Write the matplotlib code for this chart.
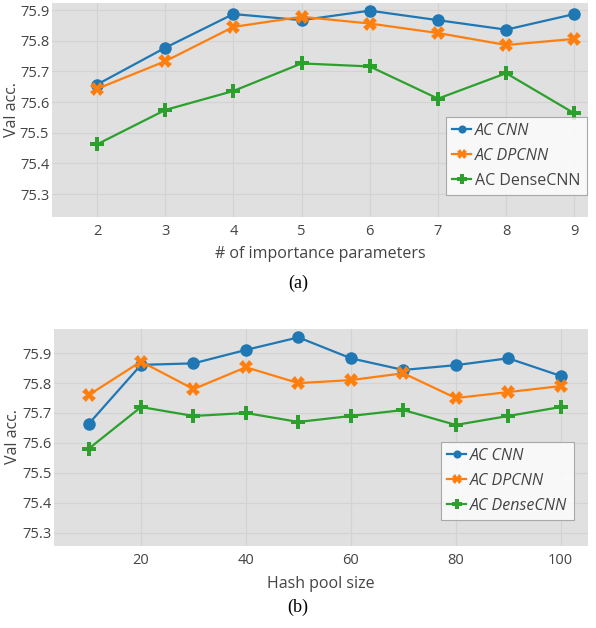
import matplotlib
matplotlib.use("Agg")
import matplotlib.pyplot as plt

# ---- data ----
params_a = [2, 3, 4, 5, 6, 7, 8, 9]
cnn_a = [75.657, 75.777, 75.887, 75.867, 75.898, 75.867, 75.836, 75.887]
dpcnn_a = [75.643, 75.733, 75.845, 75.878, 75.856, 75.825, 75.786, 75.806]
dense_a = [75.462, 75.574, 75.636, 75.726, 75.716, 75.611, 75.694, 75.563]

pool_b = [10, 20, 30, 40, 50, 60, 70, 80, 90, 100]
cnn_b = [75.663, 75.861, 75.866, 75.911, 75.953, 75.883, 75.844, 75.860, 75.883, 75.824]
dpcnn_b = [75.760, 75.872, 75.780, 75.853, 75.800, 75.810, 75.833, 75.750, 75.770, 75.790]
dense_b = [75.580, 75.720, 75.690, 75.700, 75.670, 75.690, 75.710, 75.660, 75.690, 75.720]

yticks = [75.3, 75.4, 75.5, 75.6, 75.7, 75.8, 75.9]
xticks_b = [20, 40, 60, 80, 100]
series_names = ["AC CNN", "AC DPCNN", "AC DenseCNN"]

colors = ["#1f77b4", "#ff7f0e", "#2ca02c"]
markers = ["o", "X", "P"]
msizes = [9, 10, 10]

W, H = 596, 628
fig = plt.figure(figsize=(W / 100, H / 100), dpi=100)
plt.rcParams['font.family'] = ['Open Sans', 'DejaVu Sans']
txt = "#444444"


def make_axes(l, r, t, b):
    return fig.add_axes([l / W, (H - b) / H, (r - l) / W, (b - t) / H])


def style(ax):
    ax.set_facecolor("#e0e0e0")
    for s in ax.spines.values():
        s.set_visible(False)
    ax.grid(True, color="#d3d3d3", linewidth=0.9)
    ax.set_axisbelow(True)
    ax.tick_params(length=0, labelsize=10.5, colors=txt)
    ax.tick_params(axis='y', pad=2)
    ax.tick_params(axis='x', pad=5)
    ax.set_yticks(yticks)
    ax.set_yticklabels([f"{v:.1f}" for v in yticks])


def draw(ax, x, ys, italics, legend_anchor):
    handles = []
    for y, c, m, ms, name in zip(ys, colors, markers, msizes, series_names):
        h, = ax.plot(x, y, color=c, marker=m, markersize=ms, linewidth=1.6,
                     markeredgewidth=0, label=name)
        handles.append(h)
    leg = ax.legend(handles=handles, loc="lower left", bbox_to_anchor=legend_anchor,
                    borderaxespad=0, frameon=True, fancybox=False, fontsize=11.5,
                    handlelength=1.2, handletextpad=0.25, labelspacing=0.55,
                    borderpad=0.4, markerscale=0.65)
    leg.get_frame().set_edgecolor("#999999")
    leg.get_frame().set_linewidth(0.8)
    for t, it in zip(leg.get_texts(), italics):
        t.set_color(txt)
        if it:
            t.set_fontstyle("italic")


# ---- panel (a) ----
ax1 = make_axes(52, 588, 3, 217)
style(ax1)
draw(ax1, params_a, [cnn_a, dpcnn_a, dense_a], [True, True, False], (0.7345, 0.103))
ax1.set_xlim(1.34, 9.2)
ax1.set_ylim(75.225, 75.923)
ax1.set_xticks(params_a)
ax1.set_xlabel("# of importance parameters", fontsize=11.5, color=txt, labelpad=5)
fig.text(12 / W, (H - 110) / H, "Val acc.", rotation=90, ha="center", va="center",
         fontsize=11.5, color=txt)
fig.text(298 / W, (H - 283) / H, "(a)", ha="center", va="center",
         fontsize=13, family="Liberation Serif", color="black")

# ---- panel (b) ----
ax2 = make_axes(54.3, 588, 329.3, 546)
style(ax2)
draw(ax2, pool_b, [cnn_b, dpcnn_b, dense_b], [True, True, True], (0.724, 0.12))
ax2.set_xlim(3.47, 105.2)
ax2.set_ylim(75.255, 75.98)
ax2.set_xticks(xticks_b)
ax2.set_xlabel("Hash pool size", fontsize=11.5, color=txt, labelpad=6)
fig.text(13 / W, (H - 437) / H, "Val acc.", rotation=90, ha="center", va="center",
         fontsize=11.5, color=txt)
fig.text(298 / W, (H - 607) / H, "(b)", ha="center", va="center",
         fontsize=13, family="Liberation Serif", color="black")

fig.savefig("out.png", dpi=100)
